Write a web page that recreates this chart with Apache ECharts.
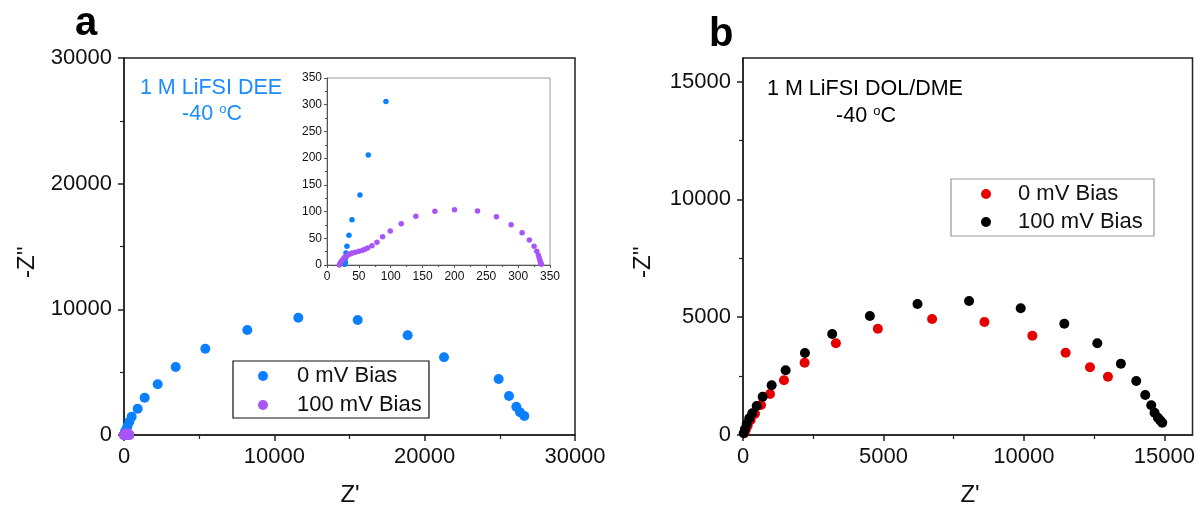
<!DOCTYPE html>
<html>
<head>
<meta charset="utf-8">
<script src="https://cdn.jsdelivr.net/npm/echarts@6/dist/echarts.min.js"></script>
<style>
html,body{margin:0;padding:0;background:#fff;}
#chart{width:1198px;height:510px;}
</style>
</head>
<body>
<div id="chart"></div>
<script>
// ---------- DATA ----------
// Panel a: 1 M LiFSI DEE, -40 oC  (Z', -Z'')
const aBlueMain = [
  [0,0],[30,20],[60,100],[100,250],[133,342],[222,660],[355,1058],[512,1456],[909,2093],
  [1375,2968],[2241,4034],[3438,5411],[5409,6868],[8203,8355],[11595,9334],
  [15545,9151],[18870,7933],[21286,6183],[24922,4456],[25609,3103],[26097,2252],
  [26341,1806],[26630,1512]
];
// low-impedance region (shown in inset and at the origin of the main plot)
const aBlueInset = [
  [28.2,1.2],[28.7,5.6],[29.3,13.7],[29.8,22.5],[31.3,35],[34.5,55.6],[39.2,84.9],
  [51.7,131],[64.8,206],[92.5,305.9]
];
const aPurple = [
  [19.5,0],[20.5,3],[22,6],[24,9],[26,12],[28,15],[31,17.5],[34,19.5],[37.6,21.2],
  [39.2,22.5],[44.4,23.7],[50.2,25.6],[55.9,27.5],[59.6,29.3],[63.7,31.8],[70.5,36.2],
  [78.4,42.4],[87.3,53.1],[99.3,63.7],[116.5,77.4],[139.5,91.1],[169.3,100.5],
  [200.1,103.6],[236.2,101.1],[265.9,90.5],[289,75.5],[306.2,60.5],[317.6,46.8],
  [325,35],[329.2,25.6],[331.8,18.1],[333.3,12.5],[334.4,8.1],[335.4,4.4],[336.5,1.2]
];
// Panel b: 1 M LiFSI DOL/DME, -40 oC
const bRed = [
  [46,72],[96,212],[167,395],[274,637],[427,904],[640,1273],[960,1740],[1458,2321],
  [2193,3069],[3307,3892],[4800,4513],[6731,4923],[8594,4796],[10300,4215],
  [11484,3493],[12350,2873],[12990,2475]
];
const bBlack = [
  [25,72],[71,255],[132,467],[224,708],[331,920],[487,1231],[700,1626],[1020,2109],
  [1518,2746],[2204,3480],[3175,4286],[4516,5050],[6211,5560],[8047,5687],[9885,5377],
  [11437,4724],[12612,3892],[13451,3026],[13998,2292],[14318,1698],[14531,1260],
  [14649,946],[14767,734],[14850,620],[14923,522]
];
// tick values
const aTicks = [0,10000,20000,30000];
const aMinor = [5000,15000,25000];
const bTicks = [0,5000,10000,15000];
const bMinor = [2500,7500,12500];
const insetTicks = [0,50,100,150,200,250,300,350];
const insetMinor = [25,75,125,175,225,275,325];
const legendLabels = ['0 mV Bias','100 mV Bias'];

// ---------- STYLE ----------
const FONT = '"Liberation Sans", Arial, sans-serif';
const BLUE = '#0A80FF', PURPLE = '#A855F7', RED = '#E60000', BLACK = '#000000';
const AX = '#222';
const plain = function(v){ return String(v); };

function mainAxis(grid, min, max, ticks, fontSize, margin, extra) {
  return Object.assign({
    type:'value', gridIndex:grid, min:min, max:max,
    axisLine:{show:true, onZero:false, lineStyle:{color:AX, width:1.5}},
    axisTick:{show:true, inside:false, length:6, customValues:ticks, lineStyle:{color:AX, width:1.5}},
    axisLabel:{show:true, customValues:ticks, formatter:plain, fontSize:fontSize, fontFamily:FONT, color:'#111', margin:margin},
    splitLine:{show:false}
  }, extra||{});
}
function minorAxis(grid, min, max, ticks, len, color, extra) {
  return Object.assign({
    type:'value', gridIndex:grid, min:min, max:max,
    axisLine:{show:false},
    axisTick:{show:true, inside:false, length:len, customValues:ticks, lineStyle:{color:color, width:1.2}},
    axisLabel:{show:false},
    splitLine:{show:false}
  }, extra||{});
}

const chart = echarts.init(document.getElementById('chart'), null, {renderer:'canvas'});
const insetAxisStyle = {color:'#555', width:1};

function legendGraphic(x, y, w, h, border, cx, tx, rowY, colors) {
  const items = [{type:'rect', shape:{x:x, y:y, width:w, height:h}, style:{fill:'#fff', stroke:border, lineWidth:1.2}, z:100}];
  for (let i = 0; i < legendLabels.length; i++) {
    items.push({type:'circle', shape:{cx:cx, cy:rowY[i], r:5}, style:{fill:colors[i]}, z:101});
    items.push({type:'text', x:tx, y:rowY[i], style:{text:legendLabels[i], font:'22px '+FONT, fill:'#111', align:'left', verticalAlign:'middle'}, z:101});
  }
  return items;
}

const option = {
  backgroundColor:'#fff',
  animation:false,
  grid:[
    {left:124, top:58, width:451, height:377, show:true, borderColor:AX, borderWidth:1.5, backgroundColor:'transparent'},
    {left:327, top:78, width:223, height:187, show:true, borderColor:'#999', borderWidth:1, backgroundColor:'#fff'},
    {left:743, top:58, width:450, height:377, show:true, borderColor:AX, borderWidth:1.5, backgroundColor:'transparent'}
  ],
  xAxis:[
    mainAxis(0,0,30000,aTicks,22,11,{position:'bottom'}),
    Object.assign(mainAxis(1,0,350,insetTicks,12,6,{position:'bottom'}),{
      axisLine:{show:true,onZero:false,lineStyle:insetAxisStyle},
      axisTick:{show:true,length:3,customValues:insetTicks,lineStyle:insetAxisStyle}
    }),
    mainAxis(2,0,16000,bTicks,22,11,{position:'bottom'}),
    minorAxis(0,0,30000,aMinor,4,AX,{position:'bottom'}),
    minorAxis(1,0,350,insetMinor,2,'#555',{position:'bottom'}),
    minorAxis(2,0,16000,bMinor,4,AX,{position:'bottom'})
  ],
  yAxis:[
    mainAxis(0,0,30000,aTicks,22,12,{position:'left'}),
    Object.assign(mainAxis(1,0,350,insetTicks,12,5,{position:'left'}),{
      axisLine:{show:true,onZero:false,lineStyle:insetAxisStyle},
      axisTick:{show:true,length:3,customValues:insetTicks,lineStyle:insetAxisStyle}
    }),
    mainAxis(2,0,16000,bTicks,22,12,{position:'left'}),
    minorAxis(0,0,30000,aMinor,4,AX,{position:'left'}),
    minorAxis(1,0,350,insetMinor,2,'#555',{position:'left'}),
    minorAxis(2,0,16000,bMinor,4,AX,{position:'left'})
  ],
  series:[
    {name:'a 0 mV', type:'scatter', xAxisIndex:0, yAxisIndex:0, symbolSize:10,
     itemStyle:{color:BLUE, opacity:1}, data:aBlueMain.concat(aBlueInset), z:3},
    {name:'a 100 mV', type:'scatter', xAxisIndex:0, yAxisIndex:0, symbolSize:10,
     itemStyle:{color:PURPLE, opacity:1}, data:aPurple, z:4},
    {name:'inset 0 mV', type:'scatter', xAxisIndex:1, yAxisIndex:1, symbolSize:5.5,
     itemStyle:{color:BLUE, opacity:1}, data:aBlueInset, z:5},
    {name:'inset 100 mV', type:'scatter', xAxisIndex:1, yAxisIndex:1, symbolSize:5.5,
     itemStyle:{color:PURPLE, opacity:1}, data:aPurple, z:6},
    {name:'b 0 mV', type:'scatter', xAxisIndex:2, yAxisIndex:2, symbolSize:10,
     itemStyle:{color:RED, opacity:1}, data:bRed, z:3},
    {name:'b 100 mV', type:'scatter', xAxisIndex:2, yAxisIndex:2, symbolSize:10,
     itemStyle:{color:BLACK, opacity:1}, data:bBlack, z:4}
  ],
  graphic:[
    {type:'text', x:86, y:44, style:{text:'a', font:'bold 40px '+FONT, fill:'#000', align:'center', verticalAlign:'bottom'}},
    {type:'text', x:709, y:55, style:{text:'b', font:'bold 40px '+FONT, fill:'#000', align:'left', verticalAlign:'bottom'}},
    {type:'text', x:211, y:88, style:{text:'1 M LiFSI DEE', font:'21.5px '+FONT, fill:'#1A8CFF', align:'center', verticalAlign:'middle'}},
    {type:'text', x:212, y:114, style:{text:'-40 {s|o}C', font:'21.5px '+FONT, fill:'#1A8CFF', align:'center', verticalAlign:'middle',
      rich:{s:{fontSize:13, fontFamily:FONT, fill:'#1A8CFF', verticalAlign:'top', lineHeight:21}}}},
    {type:'text', x:865, y:89, style:{text:'1 M LiFSI DOL/DME', font:'21.5px '+FONT, fill:'#000', align:'center', verticalAlign:'middle'}},
    {type:'text', x:866, y:116, style:{text:'-40 {s|o}C', font:'21.5px '+FONT, fill:'#000', align:'center', verticalAlign:'middle',
      rich:{s:{fontSize:13, fontFamily:FONT, fill:'#000', verticalAlign:'top', lineHeight:21}}}},
    {type:'text', x:350, y:495, style:{text:"Z'", font:'24px '+FONT, fill:'#111', align:'center', verticalAlign:'middle'}},
    {type:'text', x:970, y:495, style:{text:"Z'", font:'24px '+FONT, fill:'#111', align:'center', verticalAlign:'middle'}},
    {type:'text', x:27, y:262, rotation:Math.PI/2, style:{text:"-Z''", font:'24px '+FONT, fill:'#111', align:'center', verticalAlign:'middle'}},
    {type:'text', x:643, y:262, rotation:Math.PI/2, style:{text:"-Z''", font:'24px '+FONT, fill:'#111', align:'center', verticalAlign:'middle'}}
  ].concat(
    legendGraphic(233, 361, 196, 57, '#111', 263, 297, [376, 405], [BLUE, PURPLE]),
    legendGraphic(951, 179, 203, 57, '#999', 986, 1018, [194, 222], [RED, BLACK])
  )
};
chart.setOption(option);
</script>
</body>
</html>
